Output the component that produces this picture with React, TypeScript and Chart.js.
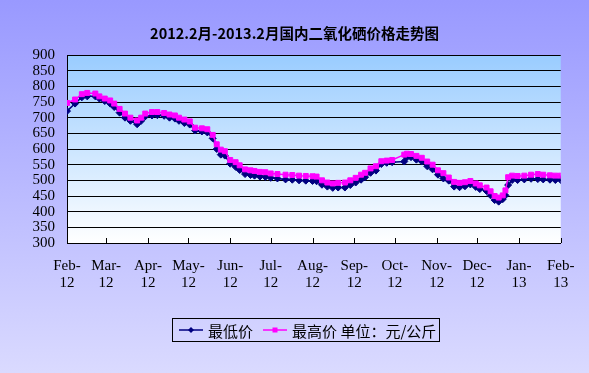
import React, { useEffect, useRef } from "react";
import { Chart, registerables } from "chart.js";

Chart.register(...registerables);

const titleText = "2012.2月-2013.2月国内二氧化硒价格走势图";
const lowLabel = "最低价";
const highLabel = "最高价 单位：元/公斤";

const dates = [
  "2012-02-01", "2012-02-07", "2012-02-12", "2012-02-16", "2012-02-22", "2012-02-25", "2012-02-29",
  "2012-03-04", "2012-03-07", "2012-03-11", "2012-03-15", "2012-03-19", "2012-03-24", "2012-03-27", "2012-03-30",
  "2012-04-04", "2012-04-08", "2012-04-13", "2012-04-17", "2012-04-21", "2012-04-24", "2012-04-28",
  "2012-05-02", "2012-05-06", "2012-05-11", "2012-05-15", "2012-05-19", "2012-05-22", "2012-05-25", "2012-05-28",
  "2012-06-01", "2012-06-05", "2012-06-08", "2012-06-12", "2012-06-16", "2012-06-19", "2012-06-23", "2012-06-27",
  "2012-07-01", "2012-07-06", "2012-07-12", "2012-07-17", "2012-07-22", "2012-07-27",
  "2012-08-01", "2012-08-04", "2012-08-08", "2012-08-12", "2012-08-16", "2012-08-20", "2012-08-25", "2012-08-29",
  "2012-09-02", "2012-09-06", "2012-09-09", "2012-09-13", "2012-09-17", "2012-09-21", "2012-09-25", "2012-09-29",
  "2012-10-08", "2012-10-10", "2012-10-13", "2012-10-17", "2012-10-21", "2012-10-25", "2012-10-29",
  "2012-11-02", "2012-11-06", "2012-11-10", "2012-11-14", "2012-11-18", "2012-11-22", "2012-11-26", "2012-11-30",
  "2012-12-03", "2012-12-08", "2012-12-11", "2012-12-14", "2012-12-17", "2012-12-20", "2012-12-22", "2012-12-24",
  "2012-12-27", "2012-12-31",
  "2013-01-05", "2013-01-10", "2013-01-15", "2013-01-19", "2013-01-24", "2013-01-28", "2013-02-01",
];

const highPrices = [
  747, 758, 775, 779, 777, 768, 761,
  755, 745, 728, 713, 700, 691, 700, 713,
  718, 718, 715, 710, 707, 700, 694,
  688, 668, 666, 663, 645, 615, 598, 593,
  565, 558, 548, 535, 532, 530, 527, 526,
  522, 520, 518, 517, 515, 514,
  513, 512, 500, 493, 490, 492, 493, 500,
  508, 518, 524, 538, 545, 561, 563, 565,
  582, 585, 584, 578, 572, 560, 550,
  532, 523, 509, 495, 492, 494, 498, 490,
  484, 477, 465, 450, 445, 452, 468, 510,
  515, 514,
  515, 518, 520, 518, 516, 515, 515,
];

const lowPrices = [
  721, 745, 765, 768, 768, 761, 753,
  745, 734, 716, 700, 690, 679, 690, 704,
  707, 708, 706, 700, 697, 690, 683,
  678, 659, 656, 653, 634, 600, 582, 579,
  553, 543, 533, 520, 517, 515, 512, 511,
  508, 506, 503, 502, 500, 499,
  498, 497, 486, 480, 476, 477, 477, 485,
  493, 502, 510, 524, 531, 552, 556, 558,
  560, 574, 574, 566, 560, 545, 535,
  518, 506, 499, 480, 478, 481, 487, 479,
  472, 466, 452, 437, 432, 440, 452, 485,
  501, 501,
  503, 505, 504, 503, 502, 501, 501,
];

const monthTickDates = [
  "2012-02-01", "2012-03-01", "2012-04-01", "2012-05-01", "2012-06-01", "2012-07-01", "2012-08-01",
  "2012-09-01", "2012-10-01", "2012-11-01", "2012-12-01", "2013-01-01", "2013-02-01",
];
const monthTickLabels = [
  ["Feb-", "12"], ["Mar-", "12"], ["Apr-", "12"], ["May-", "12"], ["Jun-", "12"], ["Jul-", "12"], ["Aug-", "12"],
  ["Sep-", "12"], ["Oct-", "12"], ["Nov-", "12"], ["Dec-", "12"], ["Jan-", "13"], ["Feb-", "13"],
];

const yMin = 300;
const yMax = 900;
const yStep = 50;

function dayOf(s: string): number {
  const [y, m, d] = s.split("-").map(Number);
  return (Date.UTC(y, m - 1, d) - Date.UTC(2012, 1, 1)) / 86400000;
}

const plotBgPlugin = {
  id: "plotBg",
  beforeDraw(chart: any) {
    const { ctx, chartArea } = chart;
    if (!chartArea) return;
    const g = ctx.createLinearGradient(0, chartArea.top, 0, chartArea.bottom);
    g.addColorStop(0, "#99CCFF");
    g.addColorStop(1, "#FFFFFF");
    ctx.save();
    ctx.fillStyle = g;
    ctx.fillRect(chartArea.left, chartArea.top, chartArea.right - chartArea.left, chartArea.bottom - chartArea.top);
    ctx.restore();
  },
  afterDraw(chart: any) {
    const { ctx, chartArea, scales } = chart;
    const xs = scales.x;
    ctx.save();
    ctx.strokeStyle = "#000000";
    ctx.lineWidth = 1;
    ctx.beginPath();
    xs.ticks.forEach((t: any) => {
      const px = Math.round(xs.getPixelForValue(t.value)) + 0.5;
      ctx.moveTo(px, chartArea.bottom);
      ctx.lineTo(px, chartArea.bottom - 5);
    });
    ctx.stroke();
    ctx.restore();
  },
};

export default function App() {
  const canvasRef = useRef<HTMLCanvasElement | null>(null);

  useEffect(() => {
    const canvas = canvasRef.current;
    if (!canvas) return;
    const xTicks = monthTickDates.map(dayOf);
    const lowData = dates.map((d, i) => ({ x: dayOf(d), y: lowPrices[i] }));
    const highData = dates.map((d, i) => ({ x: dayOf(d), y: highPrices[i] }));
    const chart = new Chart(canvas, {
      type: "line",
      data: {
        datasets: [
          {
            label: lowLabel,
            data: lowData,
            borderColor: "#000080",
            backgroundColor: "#000080",
            borderWidth: 1.5,
            pointStyle: "rectRot",
            pointRadius: 3.5,
            pointBorderWidth: 1,
            order: 1,
          },
          {
            label: highLabel,
            data: highData,
            borderColor: "#FF00FF",
            backgroundColor: "#FF00FF",
            borderWidth: 1.5,
            pointStyle: "rect",
            pointRadius: 3.5,
            pointBorderWidth: 1,
            order: 0,
          },
        ],
      },
      options: {
        responsive: false,
        animation: false,
        layout: { padding: { left: 0, right: 26, top: 55, bottom: 0 } },
        plugins: {
          legend: { display: false },
          tooltip: { enabled: false },
          title: { display: false },
        },
        scales: {
          x: {
            type: "linear",
            min: xTicks[0],
            max: xTicks[xTicks.length - 1],
            afterBuildTicks: (scale: any) => {
              scale.ticks = xTicks.map((v) => ({ value: v }));
            },
            afterFit: (scale: any) => {
              scale.height = 130;
            },
            grid: { display: false, drawTicks: false },
            border: { display: true, color: "#000000", width: 1 },
            ticks: {
              autoSkip: false,
              maxRotation: 0,
              minRotation: 0,
              padding: 14.5,
              color: "#000000",
              font: { family: "'Liberation Serif', serif", size: 15, lineHeight: 1.15 },
              callback: (value: any) => {
                const i = xTicks.indexOf(Number(value));
                return i >= 0 ? monthTickLabels[i] : "";
              },
            },
          },
          y: {
            min: yMin,
            max: yMax,
            afterFit: (scale: any) => {
              scale.width = 67;
            },
            grid: { color: "#000000", lineWidth: 1, drawTicks: false },
            border: { display: true, color: "#000000", width: 1 },
            ticks: {
              autoSkip: false,
              stepSize: yStep,
              padding: 12,
              color: "#000000",
              font: { family: "'Liberation Serif', serif", size: 15 },
            },
          },
        },
      },
      plugins: [plotBgPlugin],
    } as any);
    return () => chart.destroy();
  }, []);

  const cjkFont = "'Noto Sans CJK SC', sans-serif";

  return (
    <div
      style={{
        position: "absolute",
        left: 0,
        top: 0,
        width: 589,
        height: 373,
        background: "linear-gradient(#9999FF, #DADAFF)",
        overflow: "hidden",
      }}
    >
      <canvas ref={canvasRef} width={589} height={373} style={{ display: "block" }} />
      <div
        style={{
          position: "absolute",
          left: 0,
          top: 22,
          width: 589,
          textAlign: "center",
          fontFamily: cjkFont,
          fontWeight: "bold",
          fontSize: 14.5,
          lineHeight: "22px",
          color: "#000000",
          whiteSpace: "nowrap",
        }}
      >
        {titleText}
      </div>
      <div
        style={{
          position: "absolute",
          left: 172,
          top: 318,
          width: 266,
          height: 22,
          border: "1px solid #000000",
          display: "flex",
          alignItems: "center",
          fontFamily: cjkFont,
          fontSize: 15,
          color: "#000000",
          whiteSpace: "nowrap",
        }}
      >
        <svg width={30} height={10} style={{ marginLeft: 4 }}>
          <line x1={2} y1={5} x2={26} y2={5} stroke="#000080" strokeWidth={1.5} />
          <polygon points="14,2 17,5 14,8 11,5" fill="#000080" />
        </svg>
        <span style={{ marginLeft: 1 }}>{lowLabel}</span>
        <svg width={30} height={10} style={{ marginLeft: 8 }}>
          <line x1={2} y1={5} x2={26} y2={5} stroke="#FF00FF" strokeWidth={1.5} />
          <rect x={11.5} y={2.5} width={5} height={5} fill="#FF00FF" />
        </svg>
        <span style={{ marginLeft: 1 }}>{highLabel}</span>
      </div>
    </div>
  );
}
